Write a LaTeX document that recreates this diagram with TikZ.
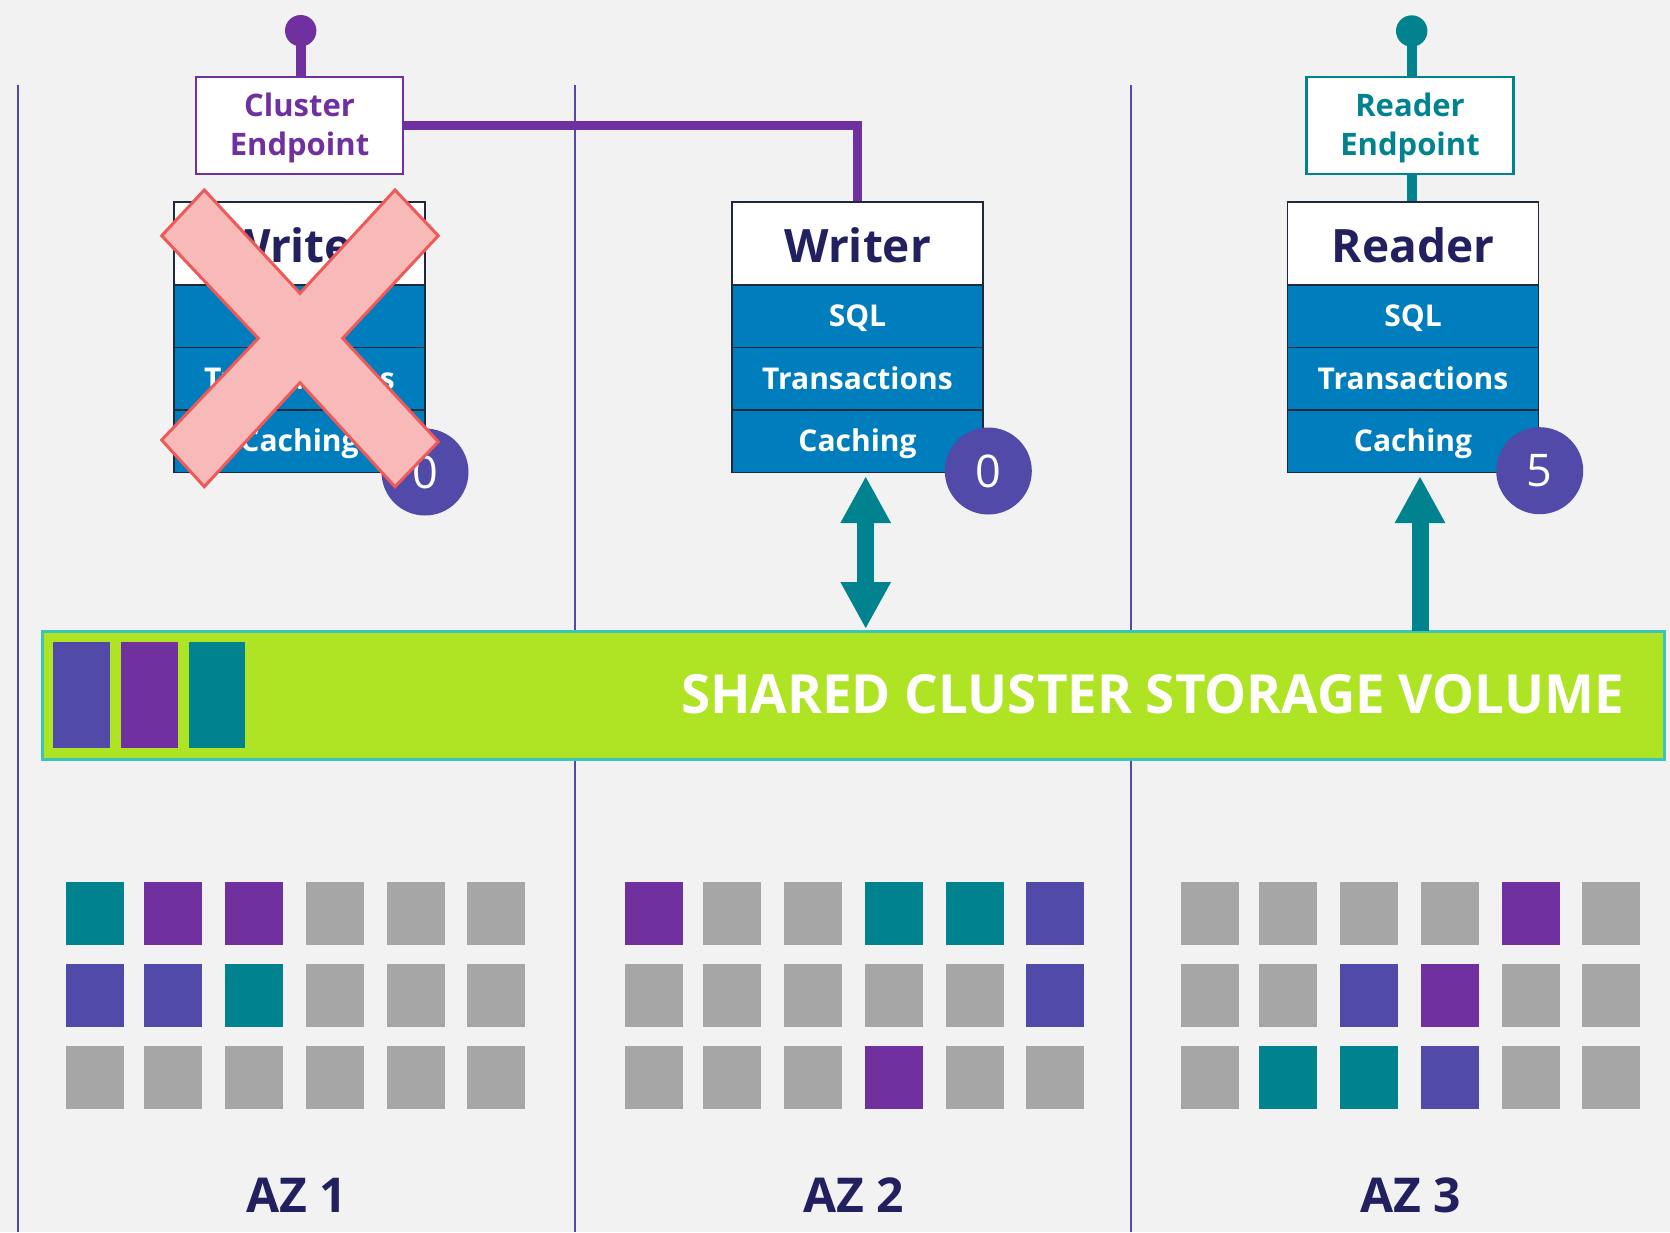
\documentclass[tikz,border=0pt]{standalone}
\usepackage{fontspec}
\setmainfont{Open Sans}
\newfontfamily\stfont[FakeStretch=0.98]{Open Sans}
\usetikzlibrary{arrows.meta,calc}
\definecolor{bg}{HTML}{F1F2F1}
\definecolor{teal1}{HTML}{00838F}
\definecolor{purp}{HTML}{7030A0}
\definecolor{indg}{HTML}{514AA8}
\definecolor{gry}{HTML}{A6A6A6}
\definecolor{navy}{HTML}{232060}
\definecolor{blu}{HTML}{007DBC}
\definecolor{lime}{HTML}{AEE423}
\definecolor{cyanb}{HTML}{3CC4B9}
\definecolor{xfill}{HTML}{F8B9B9}
\definecolor{xdraw}{HTML}{EE5A5A}
\definecolor{sep}{HTML}{1E2A3A}
\begin{document}
\begin{tikzpicture}[x=1pt,y=-1pt,
  hdr/.style={draw=sep, line width=1.2pt, fill=white, minimum width=251pt, minimum height=83pt, inner sep=0pt, text=navy, font=\fontsize{46}{50}\selectfont\bfseries, text height=37pt, text depth=0pt},
  row/.style={draw=sep, line width=1.5pt, fill=blu, minimum width=251pt, minimum height=62.5pt, inner sep=0pt, text=white, font=\fontsize{30}{36}\selectfont\bfseries, text height=21.4pt, text depth=0pt},
  ep/.style={line width=2.5pt, fill=white, minimum width=207pt, minimum height=97pt, inner sep=0pt, align=center, font=\fontsize{31}{39}\selectfont\bfseries, text height=60pt, text depth=0pt},
  dot/.style={circle, minimum size=31.4pt, inner sep=0pt},
  badge/.style={circle, fill=indg, minimum size=87pt, inner sep=0pt, text=white, font=\fontsize{45}{50}\selectfont, text height=32pt, text depth=0pt},
  azlabel/.style={anchor=base, text=navy, font=\fontsize{48}{52}\selectfont\bfseries, inner sep=0pt},
  sepline/.style={indg, line width=2.2pt},
  dblarrow/.style={teal1, line width=17pt, {Triangle[width=47pt,length=47pt]}-{Triangle[width=47pt,length=47pt]}},
  uparrow/.style={teal1, line width=17pt, -{Triangle[width=47pt,length=47pt]}},
]
\fill[bg] (0,0) rectangle (1670,1232);
\useasboundingbox (0,0) rectangle (1670,1232);

% AZ separators
\draw[sepline] (18,85) -- (18,1232);
\draw[sepline] (575,85) -- (575,1232);
\draw[sepline] (1131,85) -- (1131,1232);

% storage volume
\node[draw=cyanb, line width=3pt, fill=lime, minimum width=1622pt, minimum height=127.8pt, inner sep=0pt] (st) at (853.8,695.5) {};
\fill[indg] (53,642) rectangle (110,748);
\fill[purp] (121,642) rectangle (178,748);
\fill[teal1] (188.5,642) rectangle (245,748);
\node[anchor=base east, text=white, font=\stfont\fontsize{54}{58}\selectfont\bfseries, inner sep=0pt] (stt) at (1624,713.5) {SHARED CLUSTER STORAGE VOLUME};

% instance boxes
\foreach \nm/\cx/\ttl in {w1/299.5/Writer, w2/857.5/Writer, rd/1413/Reader}{
  \node[hdr] (\nm h) at (\cx,243.5) {\ttl};
  \node[row] (\nm a) at (\cx,316.25) {SQL};
  \node[row] (\nm b) at (\cx,378.75) {Transactions};
  \node[row] (\nm c) at (\cx,441.25) {Caching};
}
\node[badge] (b1) at (425,472) {0};
\node[badge] (b2) at (988.3,471) {0};
\node[badge] (b3) at (1539.7,470.7) {5};

% arrows to storage
\coordinate (a2t) at (865.7,476);
\coordinate (a2b) at (865.7,629);
\draw[dblarrow] (a2t) -- (a2b);
\coordinate (a3t) at (1420,476);
\coordinate (a3b) at (1420,630.5);
\draw[uparrow] (a3b) -- (a3t);

% failed writer cross
\draw[xdraw, fill=xfill, line width=3pt, line join=miter] (300,293.3) -- (395,190) -- (438.3,235.7) -- (342.7,338.3) -- (438.3,441.7) -- (395,486.7) -- (300,382.7) -- (204.3,486.7) -- (161.7,440) -- (258.3,338.3) -- (161.7,235.7) -- (204.3,190) -- cycle;

% endpoints
\node[ep, draw=purp, text=purp] (ce) at (299.5,125.5) {Cluster\\Endpoint};
\node[dot, fill=purp] (ced) at (300.7,30.7) {};
\draw[purp, line width=10pt] (ced.center) -- (ced.center |- ce.north);
\draw[purp, line width=9pt] (ce.east) -| (w2h.north);

\node[ep, draw=teal1, text=teal1] (re) at (1410,125.5) {Reader\\Endpoint};
\node[dot, fill=teal1] (red) at (1411.7,31) {};
\draw[teal1, line width=10pt] (red.center) -- (red.center |- re.north);
\draw[teal1, line width=10pt] (red.center |- re.south) -- (red.center |- rdh.north);

% storage blocks in each AZ
\foreach \off/\y/\cols in {
  0/882/{teal1,purp,purp,gry,gry,gry},
  0/964/{indg,indg,teal1,gry,gry,gry},
  0/1046/{gry,gry,gry,gry,gry,gry},
  559/882/{purp,gry,gry,teal1,teal1,indg},
  559/964/{gry,gry,gry,gry,gry,indg},
  559/1046/{gry,gry,gry,purp,gry,gry},
  1115/882/{gry,gry,gry,gry,purp,gry},
  1115/964/{gry,gry,indg,purp,gry,gry},
  1115/1046/{gry,teal1,teal1,indg,gry,gry}}{
  \foreach \c [count=\i from 0] in \cols{
    \pgfmathsetmacro{\lx}{{66,144,225,306,387,467}[\i]+\off}
    \fill[\c] (\lx,\y) rectangle ++(58,63);
  }
}

\node[azlabel] (az1) at (297,1212) {AZ 1};
\node[azlabel] (az2) at (853.5,1212) {AZ 2};
\node[azlabel] (az3) at (1411,1212) {AZ 3};
\end{tikzpicture}
\end{document}
